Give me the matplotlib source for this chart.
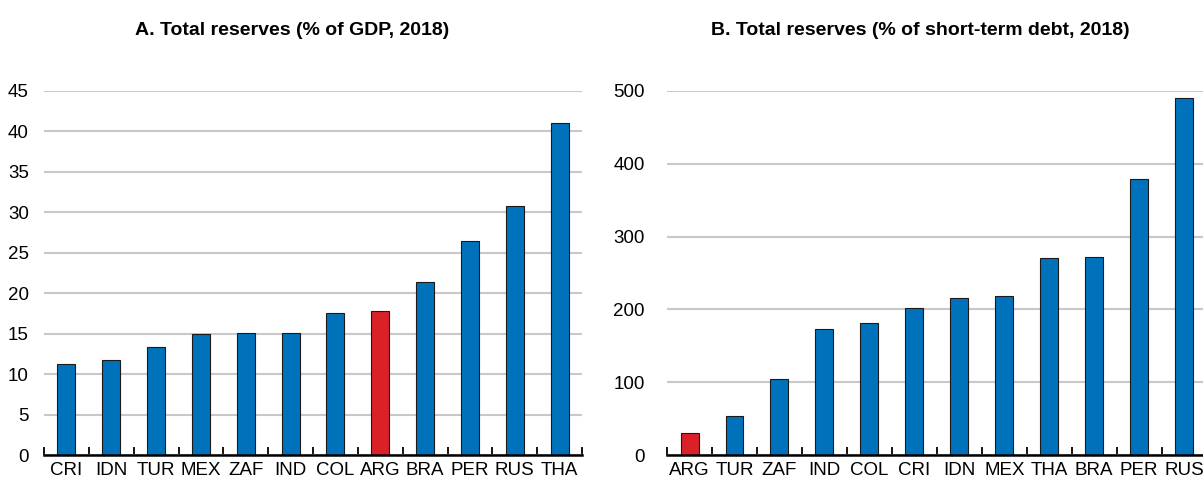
import numpy as np
import matplotlib.pyplot as plt
from matplotlib.ticker import FixedLocator

plt.rcParams['font.family'] = ['Liberation Sans Narrow', 'Liberation Sans', 'DejaVu Sans']

# panel A: total reserves, % of GDP
gdp_countries = ['CRI', 'IDN', 'TUR', 'MEX', 'ZAF', 'IND', 'COL', 'ARG', 'BRA', 'PER', 'RUS', 'THA']
gdp_values = [11.3, 11.8, 13.3, 15.0, 15.1, 15.1, 17.6, 17.8, 21.4, 26.4, 30.8, 41.1]

# panel B: total reserves, % of short-term debt
std_countries = ['ARG', 'TUR', 'ZAF', 'IND', 'COL', 'CRI', 'IDN', 'MEX', 'THA', 'BRA', 'PER', 'RUS']
std_values = [30, 54, 104, 173, 181, 202, 215, 219, 271, 272, 379, 490]

blue = '#0072BC'
red = '#DA2128'

fig = plt.figure(figsize=(12.03, 4.8), dpi=100)
axA = fig.add_axes([0.0366, 0.052, 0.4472, 0.7585])
axB = fig.add_axes([0.5545, 0.052, 0.4485, 0.7585])


def panel(ax, cats, vals, ymax, step, title, title_x):
    x = np.arange(len(cats))
    colors = [red if c == 'ARG' else blue for c in cats]
    ax.bar(x, vals, width=0.4, color=colors, edgecolor='#1a1a1a', linewidth=0.8, zorder=3)
    ax.set_xlim(-0.5, len(cats) - 0.5)
    ax.set_ylim(0, ymax)
    ax.set_yticks(np.arange(0, ymax + step / 2, step))
    ax.yaxis.grid(True, color='#c8c8c8', linewidth=1.5, zorder=0)
    ax.set_axisbelow(True)
    for s in ['top', 'right', 'left']:
        ax.spines[s].set_visible(False)
    ax.spines['bottom'].set_linewidth(1.8)
    ax.spines['bottom'].set_zorder(4)
    ax.tick_params(axis='y', length=0, labelsize=13.5, pad=11)
    # category labels at centres, tick marks at boundaries
    ax.set_xticks(x)
    ax.set_xticklabels(cats, fontsize=13.5)
    ax.tick_params(axis='x', which='major', length=0, pad=5)
    ax.xaxis.set_minor_locator(FixedLocator(np.arange(-0.5, len(cats), 1.0)))
    ax.tick_params(axis='x', which='minor', direction='in', length=6, width=1.3, color='black')
    ax.set_title(title, fontsize=14, fontweight='bold', pad=40, x=title_x)


panel(axA, gdp_countries, gdp_values, 45, 5, 'A. Total reserves (% of GDP, 2018)', 0.461)
panel(axB, std_countries, std_values, 500, 100, 'B. Total reserves (% of short-term debt, 2018)', 0.469)
axB.tick_params(axis='y', pad=16)

fig.savefig('out.png', dpi=100)
